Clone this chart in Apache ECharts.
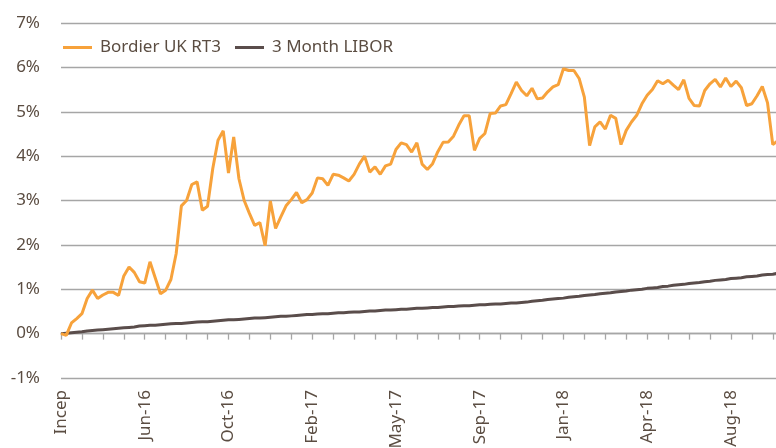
<!DOCTYPE html>
<html>
<head>
<meta charset="utf-8">
<script src="https://cdn.jsdelivr.net/npm/echarts@6/dist/echarts.min.js"></script>
<style>
  html, body { margin: 0; padding: 0; background: #fff; }
  #chart { width: 776px; height: 448px; }
</style>
</head>
<body>
<div id="chart"></div>
<script>
// weekly points, a label every 16 weeks, a tick every 4
var tickLabels = ['Incep', 'Jun-16', 'Oct-16', 'Feb-17', 'May-17', 'Sep-17', 'Jan-18', 'Apr-18', 'Aug-18'];

var bordier = [
  0, -0.04, 0.24, 0.34, 0.45, 0.79, 0.98, 0.79, 0.87, 0.93,
  0.93, 0.86, 1.30, 1.50, 1.38, 1.17, 1.14, 1.62, 1.26, 0.90,
  0.98, 1.22, 1.80, 2.88, 3.00, 3.36, 3.42, 2.78, 2.87, 3.72,
  4.36, 4.57, 3.62, 4.43, 3.49, 3.00, 2.71, 2.44, 2.50, 1.98,
  2.99, 2.37, 2.63, 2.88, 3.02, 3.18, 2.95, 3.02, 3.17, 3.51,
  3.49, 3.34, 3.59, 3.57, 3.51, 3.44, 3.59, 3.82, 4.00, 3.64,
  3.76, 3.59, 3.78, 3.82, 4.15, 4.30, 4.26, 4.09, 4.30, 3.82,
  3.70, 3.83, 4.10, 4.31, 4.32, 4.45, 4.70, 4.91, 4.91, 4.13,
  4.40, 4.51, 4.96, 4.97, 5.13, 5.16, 5.41, 5.67, 5.48, 5.36,
  5.53, 5.29, 5.31, 5.45, 5.56, 5.61, 5.97, 5.93, 5.93, 5.75,
  5.33, 4.24, 4.66, 4.77, 4.61, 4.92, 4.85, 4.26, 4.58, 4.77,
  4.92, 5.18, 5.37, 5.50, 5.70, 5.63, 5.71, 5.60, 5.50, 5.72,
  5.30, 5.14, 5.13, 5.48, 5.63, 5.73, 5.56, 5.76, 5.57, 5.69,
  5.54, 5.14, 5.18, 5.36, 5.57, 5.20, 4.26, 4.35
];

var libor = [
  0, 0.01, 0.02, 0.03, 0.04, 0.06, 0.07, 0.08, 0.09, 0.10,
  0.11, 0.12, 0.13, 0.14, 0.15, 0.17, 0.18, 0.19, 0.19, 0.20,
  0.21, 0.22, 0.23, 0.23, 0.24, 0.25, 0.26, 0.27, 0.27, 0.28,
  0.29, 0.30, 0.31, 0.31, 0.32, 0.33, 0.34, 0.35, 0.35, 0.36,
  0.37, 0.38, 0.39, 0.39, 0.40, 0.41, 0.42, 0.43, 0.43, 0.44,
  0.45, 0.45, 0.46, 0.47, 0.47, 0.48, 0.49, 0.49, 0.50, 0.51,
  0.51, 0.52, 0.53, 0.53, 0.54, 0.55, 0.55, 0.56, 0.57, 0.57,
  0.58, 0.59, 0.59, 0.60, 0.61, 0.61, 0.62, 0.63, 0.63, 0.64,
  0.65, 0.65, 0.66, 0.67, 0.67, 0.68, 0.69, 0.69, 0.70, 0.71,
  0.73, 0.74, 0.75, 0.77, 0.78, 0.79, 0.80, 0.82, 0.83, 0.84,
  0.86, 0.87, 0.88, 0.90, 0.91, 0.92, 0.94, 0.95, 0.96, 0.98,
  0.99, 1.00, 1.02, 1.03, 1.04, 1.06, 1.07, 1.09, 1.10, 1.11,
  1.13, 1.14, 1.15, 1.17, 1.18, 1.20, 1.21, 1.22, 1.24, 1.25,
  1.26, 1.28, 1.29, 1.30, 1.32, 1.33, 1.34, 1.36
];

var categories = bordier.map(function (v, i) {
  return i % 16 === 0 ? tickLabels[i / 16] : '';
});

var textColor = '#5b4d42';
var gridColor = '#a6a6a6';
var font = 'Noto Sans';

var chart = echarts.init(document.getElementById('chart'));

var option = {
  animation: false,
  grid: { left: 61, right: -2, top: 23, bottom: 70, outerBoundsMode: 'none' },
  legend: {
    left: 58,
    top: 34,
    itemWidth: 29,
    itemHeight: 3,
    itemGap: 14,
    icon: 'rect',
    textStyle: { color: textColor, fontSize: 17, fontFamily: font, padding: [0, 0, 0, 3] },
    data: ['Bordier UK RT3', '3 Month LIBOR']
  },
  xAxis: [
    {
      type: 'category',
      data: categories,
      boundaryGap: false,
      position: 'bottom',
      axisLine: { show: false, onZero: false },
      axisTick: { show: false },
      axisLabel: {
        rotate: 90,
        margin: 12,
        color: textColor,
        fontSize: 17,
        fontFamily: font,
        interval: function (i) { return i % 16 === 0; }
      },
      splitLine: { show: false }
    },
    {
      // the zero line with its tick marks
      type: 'category',
      data: categories,
      boundaryGap: false,
      position: 'bottom',
      axisLine: { show: true, onZero: true, lineStyle: { color: gridColor, width: 1.3 } },
      axisTick: {
        show: true,
        length: 6,
        interval: function (i) { return i % 4 === 0; },
        lineStyle: { color: gridColor, width: 1.3 }
      },
      axisLabel: { show: false },
      splitLine: { show: false }
    }
  ],
  yAxis: {
    type: 'value',
    min: -1,
    max: 7,
    interval: 1,
    axisLine: { show: false },
    axisTick: { show: false },
    axisLabel: {
      formatter: '{value}%',
      margin: 21,
      color: textColor,
      fontSize: 17,
      fontFamily: font
    },
    splitLine: { lineStyle: { color: gridColor, width: 1.3 } }
  },
  series: [
    {
      name: '3 Month LIBOR',
      type: 'line',
      data: libor,
      symbol: 'none',
      color: '#5a4d4b',
      lineStyle: { width: 3, color: '#5a4d4b' }
    },
    {
      name: 'Bordier UK RT3',
      type: 'line',
      data: bordier,
      symbol: 'none',
      color: '#f7a23b',
      lineStyle: { width: 3, color: '#f7a23b' }
    }
  ]
};

chart.setOption(option);
</script>
</body>
</html>
